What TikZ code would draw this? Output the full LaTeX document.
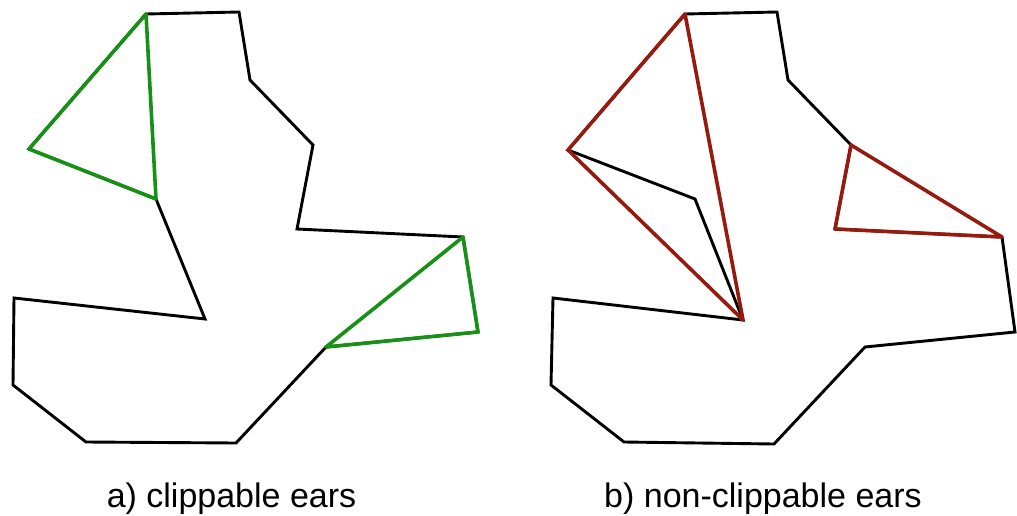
\documentclass[tikz,border=0pt]{standalone}
\usepackage{fontspec}
\setmainfont{Liberation Sans}
\definecolor{eargreen}{RGB}{22,145,22}
\definecolor{earred}{RGB}{150,26,14}
\begin{document}
\begin{tikzpicture}[x=1pt,y=-1pt,
  poly/.style={draw=black,line width=2.9pt,line join=miter},
  goodear/.style={draw=eargreen,line width=3.6pt,line join=round,line cap=round},
  badear/.style={draw=earred,line width=3.6pt,line join=round,line cap=round},
  caption/.style={font=\fontsize{34}{40}\selectfont,anchor=base,inner sep=0pt}]
\useasboundingbox (0,0) rectangle (1017,516);
% left polygon
\coordinate (a1) at (146,14);
\coordinate (a2) at (239,12);
\coordinate (a3) at (250,80);
\coordinate (a4) at (313,145);
\coordinate (a5) at (297,229);
\coordinate (a6) at (463,237);
\coordinate (a7) at (478,332);
\coordinate (a8) at (326,347);
\coordinate (a9) at (236,443);
\coordinate (a10) at (86,442);
\coordinate (a11) at (13,385);
\coordinate (a12) at (14,298);
\coordinate (a13) at (205,319);
\coordinate (a14) at (156,199);
\coordinate (a15) at (29,149);
\draw[poly] (a1)--(a2)--(a3)--(a4)--(a5)--(a6)--(a7)--(a8)--(a9)--(a10)--(a11)--(a12)--(a13)--(a14)--(a15)--cycle;
\draw[goodear] (a1)--(a14)--(a15)--cycle;
\draw[goodear] (a6)--(a7)--(a8)--cycle;
% right polygon
\coordinate (b1) at (685,14);
\coordinate (b2) at (777,12);
\coordinate (b3) at (788,80);
\coordinate (b4) at (851,145);
\coordinate (b5) at (835,229);
\coordinate (b6) at (1002,237);
\coordinate (b7) at (1015,332);
\coordinate (b8) at (865,347);
\coordinate (b9) at (774,444);
\coordinate (b10) at (624,442);
\coordinate (b11) at (551,385);
\coordinate (b12) at (553,298);
\coordinate (b13) at (743,320);
\coordinate (b14) at (695,199);
\coordinate (b15) at (568,150);
\draw[poly] (b1)--(b2)--(b3)--(b4)--(b5)--(b6)--(b7)--(b8)--(b9)--(b10)--(b11)--(b12)--(b13)--(b14)--(b15)--cycle;
\draw[badear] (b1)--(b13)--(b15)--cycle;
\draw[badear] (b4)--(b5)--(b6)--cycle;
% captions
\node[caption] (capa) at (231.5,507) {a) clippable ears};
\node[caption] (capb) at (763,507) {b) non-clippable ears};
\end{tikzpicture}
\end{document}
